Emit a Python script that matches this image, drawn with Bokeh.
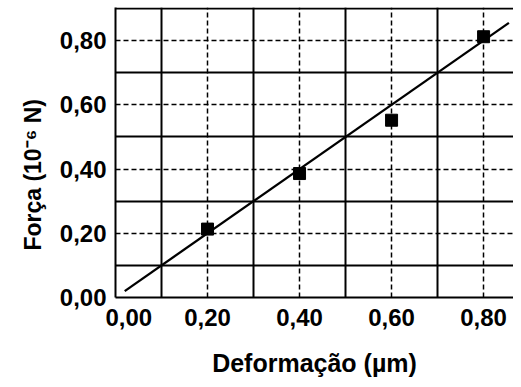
from bokeh.plotting import figure
from bokeh.models import FixedTicker, Grid, Range1d
from bokeh.embed import file_html
from bokeh.resources import INLINE

# data
deform = [0.20, 0.40, 0.60, 0.80]
forca = [0.213, 0.386, 0.552, 0.812]
fit_x = [0.02, 0.855]
fit_y = [0.02, 0.855]
tick_vals = [0.0, 0.2, 0.4, 0.6, 0.8]
x_tick_labels = ["\u00a0\u00a0\u00a0\u00a00,00", "0,20", "0,40", "0,60", "0,80"]
y_tick_labels = ["0,00", "0,20", "0,40", "0,60", "0,80"]
minor_x = [0.1, 0.3, 0.5, 0.7]
minor_y = [0.1, 0.3, 0.5, 0.7, 0.9]
dash_vals = [0.2, 0.4, 0.6, 0.8]

FONT = "Liberation Sans"

p = figure(width=513, height=379, output_backend="svg", toolbar_location=None,
           x_range=Range1d(0, 0.865), y_range=Range1d(0, 0.903),
           min_border_left=115, min_border_top=7, min_border_bottom=66,
           min_border_right=0)
p.outline_line_color = None
p.background_fill_color = "white"
p.border_fill_color = "white"

# dashed grids at even tenths
p.xgrid.ticker = FixedTicker(ticks=dash_vals)
p.ygrid.ticker = FixedTicker(ticks=dash_vals)
for g in (p.xgrid[0], p.ygrid[0]):
    g.grid_line_color = "black"
    g.grid_line_width = 1.5
    g.grid_line_dash = "5 3"

# solid grids at odd tenths
p.add_layout(Grid(dimension=0, ticker=FixedTicker(ticks=minor_x),
                  grid_line_color="black", grid_line_width=2))
p.add_layout(Grid(dimension=1, ticker=FixedTicker(ticks=minor_y),
                  grid_line_color="black", grid_line_width=2))

p.line(fit_x, fit_y, line_color="black", line_width=2.3)
p.scatter(deform, forca, marker="square", size=12, fill_color="black", line_color="black")

p.xaxis[0].major_label_overrides = dict(zip(tick_vals, x_tick_labels))
p.yaxis[0].major_label_overrides = dict(zip(tick_vals, y_tick_labels))
for ax in (p.xaxis[0], p.yaxis[0]):
    ax.ticker = FixedTicker(ticks=tick_vals)
    ax.axis_line_width = 2
    ax.axis_line_color = "black"
    ax.major_tick_line_color = None
    ax.minor_tick_line_color = None
    ax.major_tick_out = 0
    ax.major_tick_in = 0
    ax.major_label_text_font = FONT
    ax.major_label_text_font_style = "bold"
    ax.major_label_text_font_size = "24px"
    ax.major_label_text_color = "black"
    ax.axis_label_text_font = FONT
    ax.axis_label_text_font_style = "bold"
    ax.axis_label_text_color = "black"

p.xaxis.axis_label_text_font_size = "25px"
p.yaxis.axis_label_text_font_size = "23px"
p.xaxis.major_label_standoff = 6
p.yaxis.major_label_standoff = 9
p.xaxis.axis_label = "Deformação (µm)"
p.yaxis.axis_label = "Força (10⁻⁶ N)" + "\u00a0" * 7
p.xaxis.axis_label_standoff = 15
p.yaxis.axis_label_standoff = 11

open("out.html", "w").write(file_html(p, INLINE))
